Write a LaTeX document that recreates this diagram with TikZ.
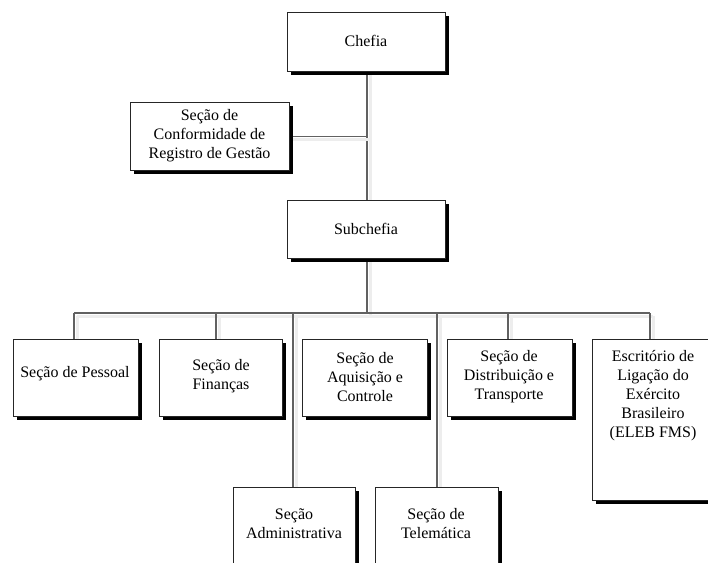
\documentclass[tikz,border=0pt]{standalone}
\usepackage{fontspec}
\setmainfont{Liberation Serif}
\usetikzlibrary{shadows}
\pgfdeclarelayer{bg}
\pgfsetlayers{bg,main}
\begin{document}
\begin{tikzpicture}[x=1pt,y=-1pt,
  box/.style={draw=black!85, line width=0.8pt, fill=white, inner sep=0pt, anchor=north west,
    drop shadow={shadow xshift=3.5pt, shadow yshift=-3.5pt, fill=black, opacity=1}},
  txt/.style={inner sep=0pt, align=center, font=\fontsize{16}{19}\selectfont},
  conn/.style={draw=black!62, line width=1.4pt,
    preaction={draw=black!7, line width=3pt, transform canvas={xshift=3pt,yshift=-3pt}}}]
\useasboundingbox (0,0) rectangle (708,562);
\clip (0,0) rectangle (708,562);
% boxes
\node[box, minimum width=158pt, minimum height=59pt] (chefia) at (287,12) {};
\node[box, minimum width=159pt, minimum height=68pt] (conf) at (130,102) {};
\node[box, minimum width=158pt, minimum height=58pt] (sub) at (287,200) {};
\node[box, minimum width=125pt, minimum height=77pt] (pes) at (13,339) {};
\node[box, minimum width=123pt, minimum height=77pt] (fin) at (159,339) {};
\node[box, minimum width=125pt, minimum height=77pt] (aq) at (302,339) {};
\node[box, minimum width=125pt, minimum height=77pt] (dist) at (447,339) {};
\node[box, minimum width=125pt, minimum height=161pt] (esc) at (592,339) {};
\node[box, minimum width=122pt, minimum height=85pt] (adm) at (233,487) {};
\node[box, minimum width=123pt, minimum height=85pt] (tel) at (375,487) {};
% texts
\node[txt] (tchefia) at (366,41) {Chefia};
\node[txt] (tconf) at (209.5,136) {Seção de\\Conformidade de\\Registro de Gestão};
\node[txt] (tsub) at (366,229) {Subchefia};
\node[txt] (tpes) at (75,374) {Seção de Pessoal};
\node[txt] (tfin) at (221,376) {Seção de\\Finanças};
\node[txt] (taq) at (365,377) {Seção de\\Aquisição e\\Controle};
\node[txt] (tdist) at (509,377) {Seção de\\Distribuição e\\Transporte};
\node[txt] (tesc) at (653,396) {Escritório de\\Ligação do\\Exército\\Brasileiro\\(ELEB FMS)};
\node[txt] (tadm) at (294,524) {Seção\\Administrativa};
\node[txt] (ttel) at (436,524) {Seção de\\Telemática};
% connector points
\coordinate (trunk) at (367,0);
\coordinate (bus) at (367,313);
\coordinate (busL) at (74,313);
\coordinate (busR) at (650,313);
\coordinate (dfin) at (216,313);
\coordinate (dadm) at (293,313);
\coordinate (dtel) at (437,313);
\coordinate (ddist) at (508,313);
\begin{pgfonlayer}{bg}
\draw[conn] (chefia.south -| trunk) -- (sub.north -| trunk);
\draw[conn] (conf.east) -- (conf.east -| trunk);
\draw[conn] (sub.south -| trunk) -- (bus);
\draw[conn] (busL) -- (busR);
\draw[conn] (busL) -- (busL |- pes.north);
\draw[conn] (dfin) -- (dfin |- fin.north);
\draw[conn] (dadm) -- (dadm |- adm.north);
\draw[conn] (dtel) -- (dtel |- tel.north);
\draw[conn] (ddist) -- (ddist |- dist.north);
\draw[conn] (busR) -- (busR |- esc.north);
\end{pgfonlayer}
\end{tikzpicture}
\end{document}
